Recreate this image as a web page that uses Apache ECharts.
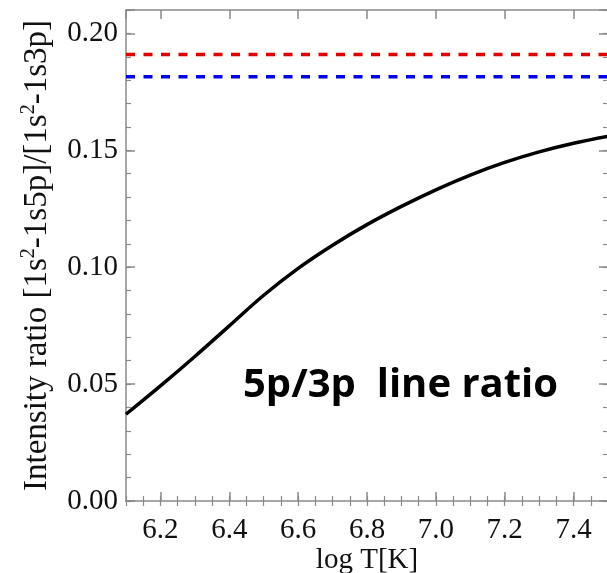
<!DOCTYPE html>
<html>
<head>
<meta charset="utf-8">
<script src="https://cdn.jsdelivr.net/npm/echarts@6/dist/echarts.min.js"></script>
<style>
  html, body { margin: 0; padding: 0; background: #ffffff; }
  #chart { width: 607px; height: 573px; }
</style>
</head>
<body>
<div id="chart"></div>
<script>
// Temperature grid (log T) and the computed 5p/3p intensity ratio
const logT  = [6.10, 6.20, 6.30, 6.40, 6.50, 6.60, 6.70, 6.80, 6.90, 7.00, 7.10, 7.20, 7.30, 7.40, 7.50];
const ratio = [0.0371, 0.0492, 0.0618, 0.0749, 0.0880, 0.0995, 0.1094, 0.1182, 0.1260, 0.1331, 0.1394, 0.1448, 0.1493, 0.1530, 0.1560];

// Horizontal reference levels
const redLevel  = 0.191;
const blueLevel = 0.1815;

// Axis ranges
const xRange = [6.1, 7.5];
const yRange = [0, 0.21];

const axisGray = '#8a8a8a';
const serif = '"Liberation Serif", "Times New Roman", serif';

function majorX(position, withLabel) {
  return {
    type: 'value', position, min: xRange[0], max: xRange[1], splitNumber: 7,
    axisLine: { show: true, onZero: false, lineStyle: { color: axisGray, width: 1.5 } },
    axisTick: { show: true, inside: true, length: 9, lineStyle: { color: axisGray, width: 1.5 } },
    axisLabel: withLabel ? {
      show: true, margin: 15, color: '#111', fontFamily: serif, fontSize: 29,
      showMinLabel: false, showMaxLabel: false,
      formatter: v => v.toFixed(1)
    } : { show: false },
    splitLine: { show: false }
  };
}
function minorX(position) {
  return {
    type: 'value', position, min: xRange[0], max: xRange[1], interval: 0.05,
    axisLine: { show: false },
    axisTick: { show: true, inside: true, length: 5, lineStyle: { color: axisGray, width: 1.2 } },
    axisLabel: { show: false }, splitLine: { show: false }
  };
}
function majorY(position, withLabel) {
  return {
    type: 'value', position, min: yRange[0], max: yRange[1], interval: 0.05,
    axisLine: { show: true, onZero: false, lineStyle: { color: axisGray, width: 1.5 } },
    axisTick: { show: true, inside: true, length: 9, lineStyle: { color: axisGray, width: 1.5 } },
    axisLabel: withLabel ? {
      show: true, margin: 8, color: '#111', fontFamily: serif, fontSize: 29,
      formatter: v => (v > 0.205 ? '' : v.toFixed(2))
    } : { show: false },
    splitLine: { show: false }
  };
}
function minorY(position) {
  return {
    type: 'value', position, min: yRange[0], max: yRange[1], interval: 0.01,
    axisLine: { show: false },
    axisTick: { show: true, inside: true, length: 5, lineStyle: { color: axisGray, width: 1.2 } },
    axisLabel: { show: false }, splitLine: { show: false }
  };
}

const xBottom = majorX('bottom', true);
xBottom.name = 'log T[K]';
xBottom.nameLocation = 'middle';
xBottom.nameGap = 45;
xBottom.nameMoveOverlap = false;
xBottom.nameTextStyle = { color: '#111', fontFamily: serif, fontSize: 29 };

const yLeft = majorY('left', true);
yLeft.name = 'Intensity ratio [1s{sup|2}-1s5p]/[1s{sup|2}-1s3p]';
yLeft.nameLocation = 'middle';
yLeft.nameGap = 71;
yLeft.nameMoveOverlap = false;
yLeft.nameTextStyle = {
  color: '#111', fontFamily: serif, fontSize: 33, lineHeight: 36,
  rich: {
    sup: { fontFamily: serif, fontSize: 20, color: '#111', verticalAlign: 'top', lineHeight: 20 }
  }
};

const chart = echarts.init(document.getElementById('chart'), null, { renderer: 'canvas' });
chart.setOption({
  animation: false,
  backgroundColor: '#ffffff',
  grid: { left: 126, top: 10, right: -1, bottom: 72, containLabel: false, outerBoundsMode: 'none' },
  xAxis: [xBottom, minorX('bottom'), majorX('top', false), minorX('top')],
  yAxis: [yLeft, minorY('left'), majorY('right', false), minorY('right')],
  graphic: [{
    type: 'text', x: 243, y: 386,
    style: {
      text: '5p/3p  line ratio', fill: '#000',
      font: 'bold 40px "Open Sans", sans-serif',
      verticalAlign: 'middle', align: 'left'
    }
  }],
  series: [
    {
      type: 'line', xAxisIndex: 0, yAxisIndex: 0, symbol: 'none', smooth: 0.4,
      data: logT.map((t, i) => [t, ratio[i]]),
      lineStyle: { color: '#000', width: 3.5 }
    },
    {
      type: 'line', xAxisIndex: 0, yAxisIndex: 0, symbol: 'none',
      data: [[xRange[0], redLevel], [xRange[1], redLevel]],
      lineStyle: { color: '#e00000', width: 3.5, type: [9, 8.5] }
    },
    {
      type: 'line', xAxisIndex: 0, yAxisIndex: 0, symbol: 'none',
      data: [[xRange[0], blueLevel], [xRange[1], blueLevel]],
      lineStyle: { color: '#0000ee', width: 3.5, type: [9, 8.5] }
    }
  ]
});
</script>
</body>
</html>
